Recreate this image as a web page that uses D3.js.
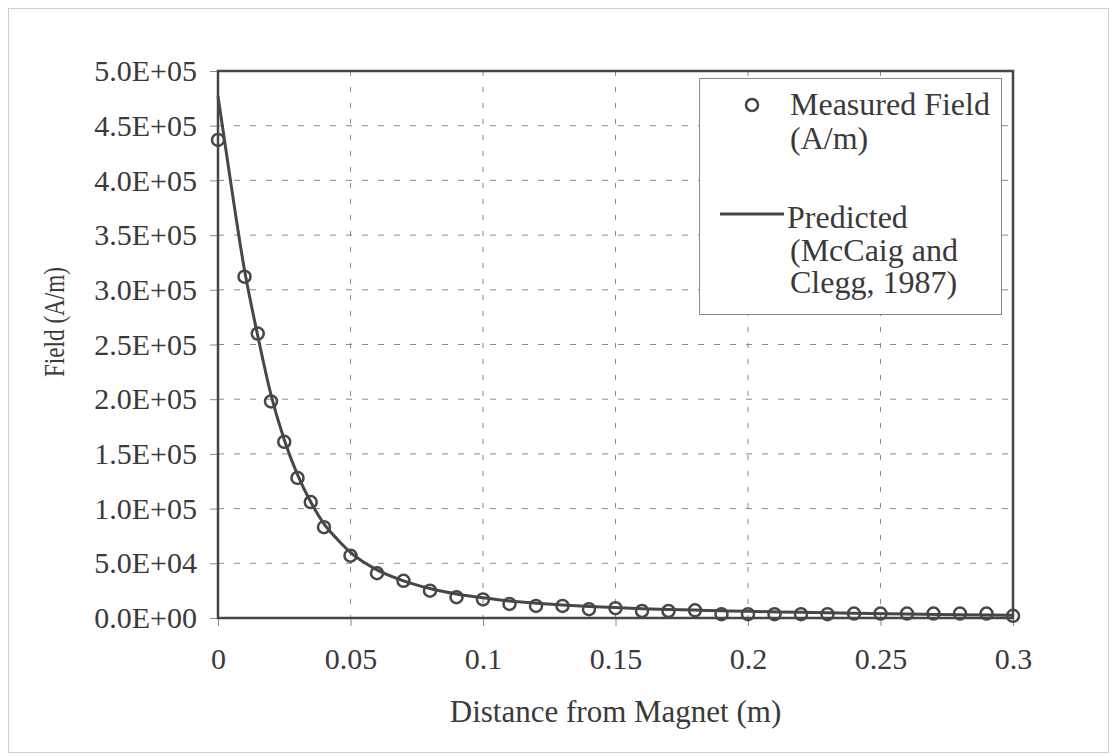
<!DOCTYPE html>
<html lang="en">
<head>
<meta charset="utf-8">
<title>Field vs distance from magnet</title>
<script src="https://d3js.org/d3.v7.min.js"></script>
<style>
  body { margin: 0; background: #fff; }
  svg { display: block; font-family: "Liberation Serif", "Times New Roman", serif; }
  .axis text { fill: #3a3a3a; font-size: 30px; }
  .axis line { stroke: #8a8a8a; }
  .axis path { display: none; }
</style>
</head>
<body>
<svg id="chart"></svg>
<script>
// measured field (A/m) vs distance (m)
var measuredX = [0, 0.01, 0.015, 0.02, 0.025, 0.03, 0.035, 0.04, 0.05, 0.06, 0.07, 0.08, 0.09, 0.1,
                 0.11, 0.12, 0.13, 0.14, 0.15, 0.16, 0.17, 0.18, 0.19, 0.2, 0.21, 0.22, 0.23, 0.24,
                 0.25, 0.26, 0.27, 0.28, 0.29, 0.3];
var measuredY = [437000, 312000, 260000, 198000, 161000, 128000, 106000, 83000, 57000, 41000, 34000, 25000, 19000, 17000,
                 12800, 11000, 11000, 8000, 9000, 6400, 6400, 7000, 3500, 3500, 3500, 3500, 3500, 4000,
                 4000, 4000, 4000, 4000, 4000, 2000];

// predicted (McCaig and Clegg, 1987)
var predictedX = [0, 0.005, 0.01, 0.015, 0.02, 0.025, 0.03, 0.035, 0.04, 0.045, 0.05, 0.06, 0.07, 0.08, 0.09, 0.1,
                  0.11, 0.12, 0.13, 0.14, 0.15, 0.16, 0.17, 0.18, 0.19, 0.2, 0.22, 0.24, 0.26, 0.28, 0.3];
var predictedY = [477000, 395000, 318000, 258000, 204000, 163000, 131000, 106000, 86000, 72000, 60000, 44000, 34000, 27000, 22000, 18500,
                  15500, 13500, 11800, 10500, 9500, 8500, 7800, 7200, 6600, 6100, 5200, 4300, 3600, 3000, 2500];

var xTicks = [0, 0.05, 0.1, 0.15, 0.2, 0.25, 0.3];
var xTickLabels = ["0", "0.05", "0.1", "0.15", "0.2", "0.25", "0.3"];
var yTicks = [0, 50000, 100000, 150000, 200000, 250000, 300000, 350000, 400000, 450000, 500000];
var yTickLabels = ["0.0E+00", "5.0E+04", "1.0E+05", "1.5E+05", "2.0E+05", "2.5E+05",
                   "3.0E+05", "3.5E+05", "4.0E+05", "4.5E+05", "5.0E+05"];

var width = 1117, height = 756;
var plotLeft = 218, plotRight = 1013, plotTop = 71, plotBottom = 618;

var svg = d3.select('#chart').attr('width', width).attr('height', height);

// page border
svg.append('rect').attr('x', 8.5).attr('y', 8.5).attr('width', 1100).attr('height', 744)
   .attr('fill', 'none').attr('stroke', '#cfcfcf').attr('stroke-width', 1);

var x = d3.scaleLinear().domain([0, 0.3]).range([plotLeft, plotRight]);
var y = d3.scaleLinear().domain([0, 500000]).range([plotBottom, plotTop]);

// grid
var grid = svg.append('g');
grid.selectAll('.hgrid').data(yTicks.slice(1, -1)).enter().append('line')
    .attr('x1', plotLeft).attr('x2', plotRight)
    .attr('y1', function (d) { return y(d); }).attr('y2', function (d) { return y(d); })
    .attr('stroke', '#8a8a8a').attr('stroke-width', 1).attr('stroke-dasharray', '6,10');
grid.selectAll('.vgrid').data(xTicks.slice(1, -1)).enter().append('line')
    .attr('y1', plotTop).attr('y2', plotBottom)
    .attr('x1', function (d) { return x(d); }).attr('x2', function (d) { return x(d); })
    .attr('stroke', '#8a8a8a').attr('stroke-width', 1).attr('stroke-dasharray', '5,11');

// axes
var yAxis = svg.append('g').attr('class', 'axis').attr('transform', 'translate(' + plotLeft + ',0)')
   .call(d3.axisLeft(y).tickValues(yTicks).tickSize(8).tickPadding(13)
         .tickFormat(function (d, i) { return yTickLabels[i]; }));
yAxis.attr('font-family', null).attr('font-size', null);
yAxis.selectAll('text').attr('dy', '0.32em');

var xAxis = svg.append('g').attr('class', 'axis').attr('transform', 'translate(0,' + plotBottom + ')')
   .call(d3.axisBottom(x).tickValues(xTicks).tickSize(8)
         .tickFormat(function (d, i) { return xTickLabels[i]; }));
xAxis.attr('font-family', null).attr('font-size', null);
xAxis.selectAll('text').attr('y', 51).attr('dy', 0);

// plot frame
svg.append('rect').attr('x', plotLeft).attr('y', plotTop)
   .attr('width', plotRight - plotLeft).attr('height', plotBottom - plotTop)
   .attr('fill', 'none').attr('stroke', '#454545').attr('stroke-width', 2.5);

// predicted line
var line = d3.line()
    .x(function (d) { return x(d[0]); })
    .y(function (d) { return y(d[1]); })
    .curve(d3.curveMonotoneX);
svg.append('path').datum(d3.zip(predictedX, predictedY))
   .attr('d', line).attr('fill', 'none').attr('stroke', '#474747').attr('stroke-width', 3);

// measured points
svg.selectAll('.pt').data(d3.zip(measuredX, measuredY)).enter().append('circle')
   .attr('cx', function (d) { return x(d[0]); })
   .attr('cy', function (d) { return y(d[1]); })
   .attr('r', 6)
   .attr('fill', 'none').attr('stroke', '#474747').attr('stroke-width', 2.5);

// axis titles
svg.append('text').attr('x', (plotLeft + plotRight) / 2).attr('y', 722)
   .attr('text-anchor', 'middle').attr('font-size', 31).attr('fill', '#3a3a3a')
   .text('Distance from Magnet (m)');
// scanned original is squeezed along this label, so narrow it a bit
svg.append('text').attr('transform', 'translate(64,322) rotate(-90) scale(0.8,1)')
   .attr('text-anchor', 'middle').attr('font-size', 29).attr('fill', '#3a3a3a')
   .text('Field (A/m)');

// legend
var lg = svg.append('g');
lg.append('rect').attr('x', 699.5).attr('y', 78.5).attr('width', 302).attr('height', 236)
  .attr('fill', '#fff').attr('stroke', '#8a8a8a').attr('stroke-width', 1);
lg.append('circle').attr('cx', 752).attr('cy', 105).attr('r', 6)
  .attr('fill', 'none').attr('stroke', '#474747').attr('stroke-width', 2.5);
lg.append('line').attr('x1', 720).attr('x2', 784).attr('y1', 214).attr('y2', 214)
  .attr('stroke', '#474747').attr('stroke-width', 3);
var legendLines = [
  { text: 'Measured Field', x: 790, y: 115 },
  { text: '(A/m)', x: 790, y: 149 },
  { text: 'Predicted', x: 787, y: 228 },
  { text: '(McCaig and', x: 790, y: 261 },
  { text: 'Clegg, 1987)', x: 790, y: 293 }
];
lg.selectAll('.lt').data(legendLines).enter().append('text')
  .attr('x', function (d) { return d.x; }).attr('y', function (d) { return d.y; })
  .attr('font-size', 32).attr('fill', '#3a3a3a')
  .text(function (d) { return d.text; });
</script>
</body>
</html>
